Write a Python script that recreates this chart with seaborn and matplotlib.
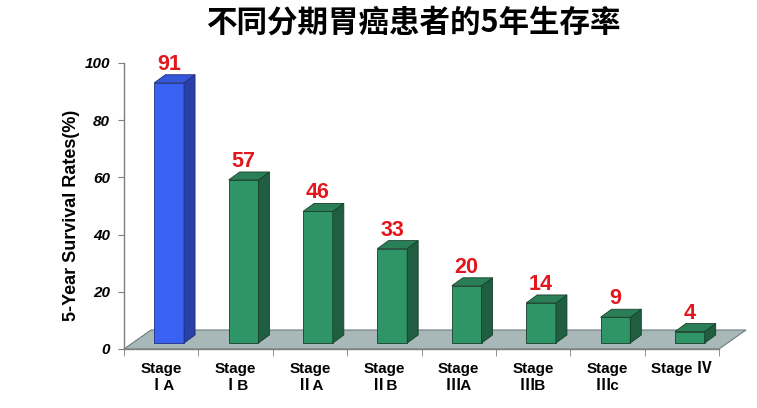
import numpy as np
import pandas as pd
import seaborn as sns
import matplotlib.pyplot as plt
from matplotlib.patches import Polygon

# data
stages = ["Stage\nⅠA", "Stage\nⅠB", "Stage\nⅡA", "Stage\nⅡB",
          "Stage\nⅢA", "Stage\nⅢB", "Stage\nⅢc", "Stage Ⅳ"]
rates = [91, 57, 46, 33, 20, 14, 9, 4]
yticks = [0, 20, 40, 60, 80, 100]
title = "不同分期胃癌患者的5年生存率"
ylabel = "5-Year Survival Rates(%)"

front = ["#3A62F2"] + ["#2F9466"] * 7
side = ["#2A3FA8"] + ["#1F5E40"] * 7
top = ["#3557DA"] + ["#2A7F56"] * 7
edge = ["#1F2F80"] + ["#173F2B"] * 7

sns.set_style("ticks")
plt.rcParams['font.family'] = ['Liberation Sans', 'Noto Sans CJK SC']
plt.rcParams['text.color'] = 'black'
plt.rcParams['xtick.labelcolor'] = 'black'
plt.rcParams['ytick.labelcolor'] = 'black'

W, H = 757, 408
fig = plt.figure(figsize=(W / 100, H / 100), dpi=100)
ax_l, ax_b, ax_w, ax_h = 124, 59, 595, 286
ax = fig.add_axes([ax_l / W, ax_b / H, ax_w / W, ax_h / H])

df = pd.DataFrame({"stage": stages, "rate": rates})
sns.barplot(data=df, x="stage", y="rate", hue="stage", palette=front,
            saturation=1, legend=False, width=0.4, ax=ax, zorder=3,
            linewidth=0.6)

ax.set_xlim(-0.5, 7.5)
ax.set_ylim(0, 100)

# pixel -> data unit helpers
px_x = 8 / ax_w
px_y = 100 / ax_h

# floor of the 3d box
fdx, fdy = 27 * px_x, 19 * px_y
floor = Polygon([(-0.5, 0), (7.5, 0), (7.5 + fdx, fdy), (-0.5 + fdx, fdy)],
                closed=True, facecolor="#A8B8B8", edgecolor="#6E7B7B",
                linewidth=0.8, clip_on=False, zorder=1)
ax.add_patch(floor)

# bar depth effect
sx, sy = 8 * px_x, 6 * px_y
bdx, bdy = 11 * px_x, 8 * px_y
for i, p in enumerate(ax.patches[:len(rates)]):
    p.set_x(p.get_x() + sx)
    p.set_y(sy)
    p.set_edgecolor(edge[i])
    x0 = p.get_x()
    w = p.get_width()
    h = p.get_height() + sy
    ax.add_patch(Polygon([(x0 + w, sy), (x0 + w + bdx, sy + bdy),
                          (x0 + w + bdx, h + bdy), (x0 + w, h)],
                         facecolor=side[i], edgecolor=edge[i], linewidth=0.6,
                         clip_on=False, zorder=3))
    ax.add_patch(Polygon([(x0, h), (x0 + w, h), (x0 + w + bdx, h + bdy),
                          (x0 + bdx, h + bdy)],
                         facecolor=top[i], edgecolor=edge[i], linewidth=0.6,
                         clip_on=False, zorder=3))
    ax.text(x0 + w / 2, h + bdy, str(rates[i]), ha="center", va="bottom",
            color="#E3161B", fontsize=15.5, fontweight="bold", clip_on=False)

sns.despine(ax=ax)
for s in ["left", "bottom"]:
    ax.spines[s].set_color("#7F7F7F")
    ax.spines[s].set_linewidth(1.0)
    ax.spines[s].set_zorder(2)

ax.set_yticks(yticks)
ax.set_yticklabels([str(t) for t in yticks], fontsize=11,
                   fontweight="bold", fontstyle="italic")
ax.tick_params(axis="y", length=4, color="#7F7F7F", pad=6)

ax.set_xticks(range(len(stages)))
ax.set_xticklabels(stages, fontsize=11, fontweight="bold", linespacing=1.3)
ax.set_xticks(np.arange(-0.5, 8, 1), minor=True)
ax.tick_params(axis="x", which="major", length=0, pad=9)
ax.tick_params(axis="x", which="minor", length=5, color="#7F7F7F")
ax.set_xlabel("")
ax.set_ylabel("")

fig.text(72 / W, 1 - 215 / H, ylabel, rotation=90, ha="center", va="center",
         fontsize=13, fontweight="bold")
fig.text(414 / W, 1 - 23 / H, title, ha="center", va="center", fontsize=22,
         fontweight="bold", family=["Noto Sans CJK SC", "DejaVu Sans"])

plt.savefig("out.png", dpi=100)
